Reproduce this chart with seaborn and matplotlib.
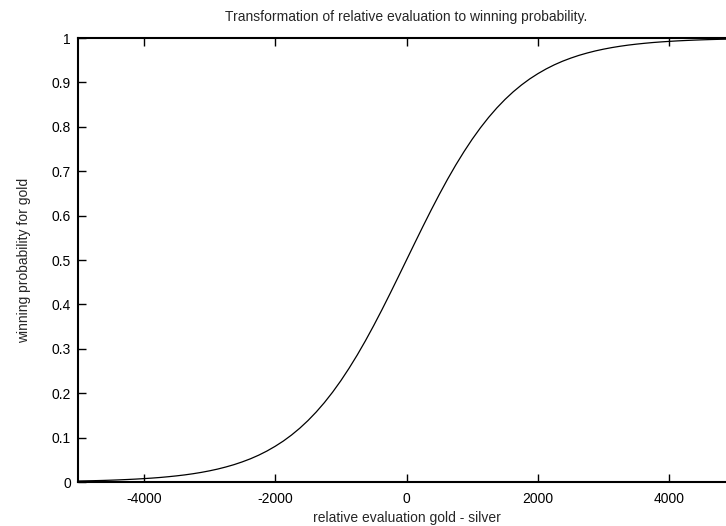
import matplotlib
matplotlib.use("Agg")
import matplotlib.pyplot as plt
import seaborn as sns
import pandas as pd

# Relative evaluation (gold - silver) and the winning probability for gold
evaluation = [
    -5000, -4875, -4750, -4625, -4500, -4375, -4250, -4125,
    -4000, -3875, -3750, -3625, -3500, -3375, -3250, -3125,
    -3000, -2875, -2750, -2625, -2500, -2375, -2250, -2125,
    -2000, -1875, -1750, -1625, -1500, -1375, -1250, -1125,
    -1000, -875, -750, -625, -500, -375, -250, -125,
    0, 125, 250, 375, 500, 625, 750, 875,
    1000, 1125, 1250, 1375, 1500, 1625, 1750, 1875,
    2000, 2125, 2250, 2375, 2500, 2625, 2750, 2875,
    3000, 3125, 3250, 3375, 3500, 3625, 3750, 3875,
    4000, 4125, 4250, 4375, 4500, 4625, 4750, 4875, 5000,
]
probability = [
    0.0022, 0.0026, 0.0030, 0.0035, 0.0041, 0.0048, 0.0056, 0.0065,
    0.0076, 0.0088, 0.0102, 0.0119, 0.0138, 0.0160, 0.0186, 0.0216,
    0.0251, 0.0291, 0.0338, 0.0391, 0.0453, 0.0523, 0.0604, 0.0697,
    0.0803, 0.0922, 0.1058, 0.1211, 0.1383, 0.1575, 0.1788, 0.2023,
    0.2280, 0.2560, 0.2860, 0.3181, 0.3521, 0.3876, 0.4244, 0.4620,
    0.5000, 0.5380, 0.5756, 0.6124, 0.6479, 0.6819, 0.7140, 0.7440,
    0.7720, 0.7977, 0.8212, 0.8425, 0.8617, 0.8789, 0.8942, 0.9078,
    0.9197, 0.9303, 0.9396, 0.9477, 0.9547, 0.9609, 0.9662, 0.9709,
    0.9749, 0.9784, 0.9814, 0.9840, 0.9862, 0.9881, 0.9898, 0.9912,
    0.9924, 0.9935, 0.9944, 0.9952, 0.9959, 0.9965, 0.9970, 0.9974, 0.9978,
]

x_ticks = [-4000, -2000, 0, 2000, 4000]
y_ticks = [0, 0.1, 0.2, 0.3, 0.4, 0.5, 0.6, 0.7, 0.8, 0.9, 1]
y_tick_labels = ["0", "0.1", "0.2", "0.3", "0.4", "0.5", "0.6", "0.7", "0.8", "0.9", "1"]

sns.set_style("white")
plt.rcParams["font.family"] = ["Liberation Sans", "DejaVu Sans"]
plt.rcParams["font.size"] = 10

df = pd.DataFrame({"evaluation": evaluation, "probability": probability})

W, H = 726, 526
fig = plt.figure(figsize=(W / 100, H / 100), dpi=100)
left, top, bottom = 78, 38, 482
width = 657
ax = fig.add_axes([left / W, 1 - bottom / H, width / W, (bottom - top) / H])

sns.lineplot(data=df, x="evaluation", y="probability", ax=ax,
             color="black", linewidth=0.9)

ax.set_xlim(-5000, 5000)
ax.set_ylim(0, 1)
ax.set_xticks(x_ticks)
ax.set_xticklabels([str(v) for v in x_ticks])
ax.set_yticks(y_ticks)
ax.set_yticklabels(y_tick_labels)

for s in ax.spines.values():
    s.set_color("black")
    s.set_linewidth(1.5)
    s.set_visible(True)

ax.tick_params(direction="in", length=6, width=1, colors="black",
               top=True, right=True, bottom=True, left=True,
               labelsize=10)
ax.tick_params(axis="x", pad=7)
ax.tick_params(axis="y", pad=5)

ax.set_xlabel("relative evaluation gold - silver", fontsize=10, labelpad=4)
ax.set_ylabel("winning probability for gold", fontsize=10, labelpad=15)
ax.set_title("Transformation of relative evaluation to winning probability.",
             fontsize=10, pad=12)

fig.savefig("out.png", dpi=100)
